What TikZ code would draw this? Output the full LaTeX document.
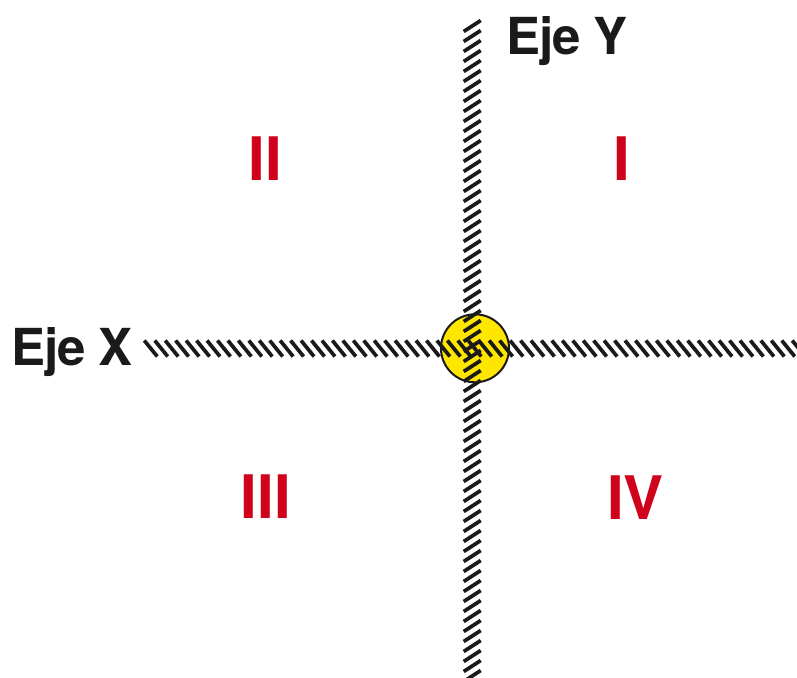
\documentclass[tikz,border=0pt]{standalone}
\usepackage{fontspec}
\setmainfont{TeX Gyre Heros}
\newfontfamily\labelfont[LetterSpace=-2.5]{TeX Gyre Heros}
\definecolor{ink}{HTML}{1A1A1A}
\definecolor{quadred}{HTML}{D0021B}
\definecolor{sun}{HTML}{FFE600}
\begin{document}
\begin{tikzpicture}[x=1pt,y=-1pt,
  hatch/.style={line width=3.7pt, draw=ink},
  axislabel/.style={font=\labelfont\fontsize{51}{51}\selectfont\bfseries, text=ink, inner sep=0pt, anchor=base west},
  quad/.style={font=\fontsize{60}{60}\selectfont\bfseries, text=quadred, inner sep=0pt, anchor=base},
  sunfill/.style={circle, fill=sun, inner sep=0pt, minimum size=68pt},
  sunrim/.style={circle, draw=ink, line width=2pt, inner sep=0pt, minimum size=68pt}]
\useasboundingbox (0,0) rectangle (797,677);
\node[sunfill] (origin) at (475,348.3) {};
% X axis hatching
\foreach \i in {0,...,62} {
  \draw[hatch] ({150.8+10.45*\i-6.5},340.5) -- ({150.8+10.45*\i+6.5},356.5);
}
% Y axis hatching
\foreach \j in {0,...,66} {
  \draw[hatch] (463.7,{26+10*\j+5.5}) -- (480.7,{26+10*\j-5.5});
}
\node[sunrim] (rim) at (origin) {};
\node[axislabel] (ejex) at (11.5,365) {Eje X};
\node[axislabel] (ejey) at (506.5,55) {Eje Y};
\node[quad] (q1) at (622,180) {I};
\node[quad] (q2) at (265,180) {II};
\node[quad] (q3) at (266,518.7) {III};
\node[quad] (q4) at (635.4,519) {IV};
\end{tikzpicture}
\end{document}
